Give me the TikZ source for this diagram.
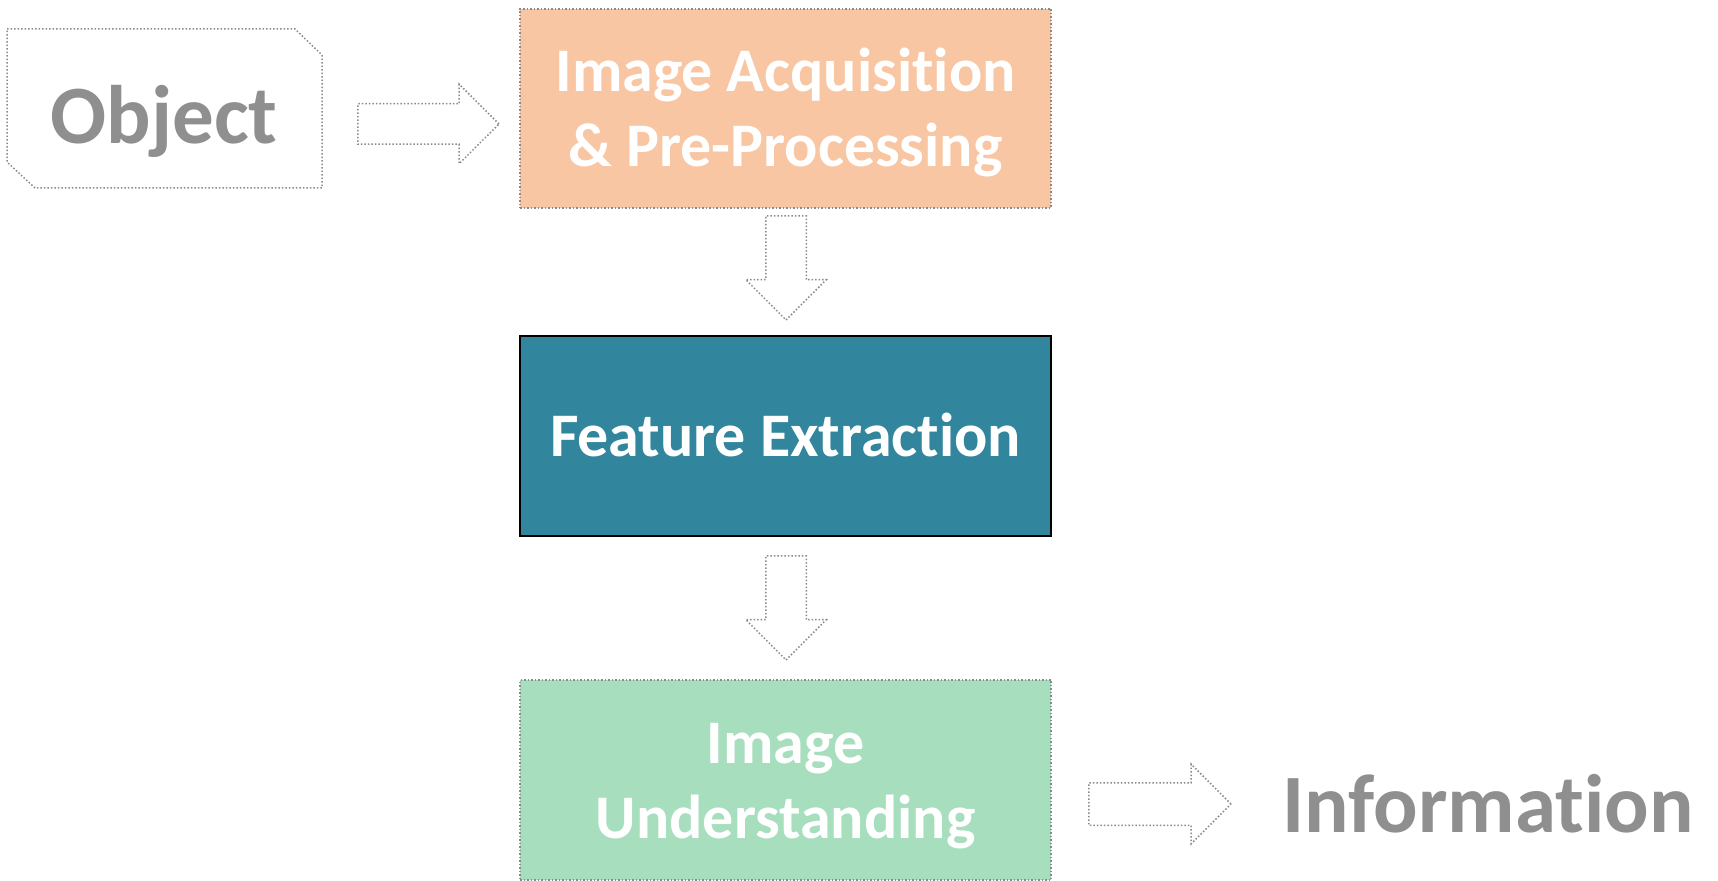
\documentclass[tikz,border=0pt]{standalone}
\usepackage{fontspec}
\setmainfont{Carlito}[Ligatures=NoCommon]
\usetikzlibrary{shapes.arrows}
\definecolor{tealbox}{HTML}{31859C}
\definecolor{orangebox}{HTML}{F8C6A2}
\definecolor{greenbox}{HTML}{A6DEBE}
\definecolor{graytext}{HTML}{8F8F8F}
\definecolor{grayline}{HTML}{8A8A8A}
\tikzset{
  outline/.style={draw=grayline, densely dotted, line width=0.75pt},
  stagebox/.style={rectangle, inner sep=0pt, minimum width=265.5pt, minimum height=99.5pt},
  whitetxt/.style={text=white, font=\fontsize{31}{31}\selectfont\bfseries, inner sep=0pt, anchor=base},
  graytxt/.style={text=graytext, font=\fontsize{41.5}{41.5}\selectfont\bfseries, inner sep=0pt},
  blockarrow/.style={single arrow, outline, fill=white, inner xsep=0pt, single arrow tip angle=90, anchor=tip}
}
\begin{document}
\begin{tikzpicture}[x=0.5pt,y=-0.5pt]
\useasboundingbox (0,0) rectangle (1718,881);
% Object
\draw[outline] (7,29) -- (295,29) -- (322,55) -- (322,188) -- (35,188) -- (7,162) -- cycle;
\node[graytxt, anchor=base] (obj) at (164,144) {Object};
% stage boxes
\node[stagebox, fill=orangebox, outline] (acq) at (785.5,108.5) {};
\node[whitetxt] (acq1) at (785.5,92) {Image Acquisition};
\node[whitetxt] (acq2) at (785.5,167) {\& Pre-Processing};
\node[stagebox, fill=tealbox, draw=black, line width=0.8pt, minimum height=100pt] (feat) at (785.5,436) {};
\node[whitetxt] (feat1) at (785.5,457) {Feature Extraction};
\node[stagebox, fill=greenbox, outline, minimum height=100pt] (und) at (785.5,780) {};
\node[whitetxt] (und1) at (785.5,763) {Image};
\node[whitetxt] (und2) at (785.5,838) {Understanding};
\node[graytxt, anchor=base west] (info) at (1282,832) {Information};
% block arrows
\node[blockarrow, minimum height=70.5pt, inner ysep=9.75pt, single arrow head extend=9.75pt] (a1) at (500,124) {};
\node[blockarrow, rotate=-90, minimum height=52pt, inner ysep=9.75pt, single arrow head extend=10pt] (a2) at (786,321) {};
\node[blockarrow, rotate=-90, minimum height=52pt, inner ysep=9.75pt, single arrow head extend=10pt] (a3) at (786,661) {};
\node[blockarrow, minimum height=71pt, inner ysep=10.25pt, single arrow head extend=9.25pt] (a4) at (1232,804) {};
\end{tikzpicture}
\end{document}
